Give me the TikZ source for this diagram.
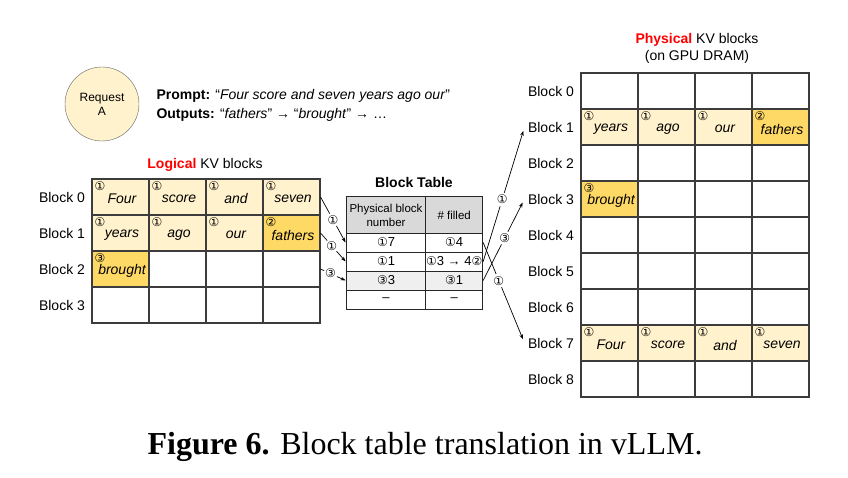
\documentclass[tikz,border=0pt]{standalone}
\usepackage{fontspec}
\setmainfont{Liberation Sans}
\newfontfamily\symfont{DejaVu Sans}
\newfontfamily\capfont{Liberation Serif}
\usetikzlibrary{arrows.meta,positioning}
\definecolor{kvlight}{HTML}{FFF2CC}
\definecolor{kvdark}{HTML}{FFD966}
\definecolor{hdrgray}{HTML}{D9D9D9}
\definecolor{rowgray}{HTML}{EFEFEF}
\definecolor{gridline}{HTML}{3C3C3C}
\definecolor{kvred}{HTML}{FF0000}
% circled step number
\newcommand{\cnum}[1]{{\symfont\fontsize{12}{12}\selectfont\ifcase#1\or ①\or ②\or ③\fi}}
\begin{document}
\begin{tikzpicture}
  [x=1pt,y=-1pt,
   kvcell/.style={draw=gridline,line width=1.1pt,minimum width=57pt,minimum height=36pt,
     inner sep=0pt},
   kvword/.style={font=\fontsize{14}{14}\selectfont\itshape},
   btcell/.style={draw=black!85,line width=0.9pt,minimum height=19pt,inner sep=0pt,
     font=\fontsize{13}{13}\selectfont},
   blklabel/.style={font=\fontsize{14}{14}\selectfont},
   title/.style={font=\fontsize{14}{17}\selectfont,align=center},
   numtag/.style={inner sep=0pt},
   flow/.style={-{Stealth[length=5pt,width=3.5pt]},line width=0.7pt},
   flownum/.style={circle,fill=white,inner sep=0pt}]
  \fill[white] (0,0) rectangle (848,478);

  % request
  \node[circle,draw=black!60,fill=kvlight,minimum size=74pt,align=center,
    font=\fontsize{12}{14}\selectfont] (req) at (102,104) {Request\\A};
  \node[anchor=west,align=left,font=\fontsize{14}{19}\selectfont] (prompt) at (153,105)
    {\textbf{Prompt:} “\textit{Four score and seven years ago our}”\\
     \textbf{Outputs:} “\textit{fathers}” → “\textit{brought}” → …};

  % logical KV blocks
  \node[title] (ltitle) at (205,165) {\textbf{\textcolor{kvred}{Logical}} KV blocks};
  \foreach \r in {0,...,3} {
    \node[blklabel] (lb\r) at (62,{197+36*\r}) {Block \r};
    \foreach \c in {0,...,3}
      \node[kvcell] (l-\r-\c) at ({120.5+57*\c},{197+36*\r}) {};
  }
  \foreach \r/\c/\w/\n/\f in {0/0/Four/1/kvlight,0/1/score/1/kvlight,0/2/and/1/kvlight,
    0/3/seven/1/kvlight,1/0/years/1/kvlight,1/1/ago/1/kvlight,1/2/our/1/kvlight,
    1/3/fathers/2/kvdark,2/0/brought/3/kvdark} {
    \node[kvcell,fill=\f] (lc-\r-\c) at (l-\r-\c) {};
    \node[kvword] (lw-\r-\c) at ([shift={(1.5,2)}]l-\r-\c.center) {\w};
    \node[numtag] (ln-\r-\c) at ([shift={(8.5,7.5)}]l-\r-\c.north west) {\cnum{\n}};
  }

  % block table
  \node[font=\fontsize{14}{14}\selectfont\bfseries] (bttitle) at (414,182) {Block Table};
  \node[btcell,fill=hdrgray,minimum width=80pt,minimum height=36.6pt,align=center,
    font=\fontsize{11.5}{14}\selectfont] (th-1) at (386,215) {Physical block\\number};
  \node[btcell,fill=hdrgray,minimum width=57pt,minimum height=36.6pt,
    font=\fontsize{11.5}{14}\selectfont] (th-2) at (454.2,215) {\# filled};
  \foreach \r/\a/\b/\f in {0/{\cnum{1}7}/{\cnum{1}4}/white,
    1/{\cnum{1}1}/{\cnum{1}3 → 4\cnum{2}}/white,
    2/{\cnum{3}3}/{\cnum{3}1}/rowgray,3/--/--/white} {
    \node[btcell,fill=\f,minimum width=80pt] (bt-\r-1) at (386,{242.5+19*\r}) {\a};
    \node[btcell,fill=\f,minimum width=57pt] (bt-\r-2) at (454.2,{242.5+19*\r}) {\b};
  }

  % physical KV blocks
  \node[title] (ptitle) at (697,48)
    {\textbf{\textcolor{kvred}{Physical}} KV blocks\\(on GPU DRAM)};
  \foreach \r in {0,...,8} {
    \node[blklabel] (pb\r) at (551,{91+36*\r}) {Block \r};
    \foreach \c in {0,...,3}
      \node[kvcell] (p-\r-\c) at ({609.5+57*\c},{91+36*\r}) {};
  }
  \foreach \r/\c/\w/\n/\f in {1/0/years/1/kvlight,1/1/ago/1/kvlight,1/2/our/1/kvlight,
    1/3/fathers/2/kvdark,3/0/brought/3/kvdark,7/0/Four/1/kvlight,7/1/score/1/kvlight,
    7/2/and/1/kvlight,7/3/seven/1/kvlight} {
    \node[kvcell,fill=\f] (pc-\r-\c) at (p-\r-\c) {};
    \node[kvword] (pw-\r-\c) at ([shift={(1.5,2)}]p-\r-\c.center) {\w};
    \node[numtag] (pn-\r-\c) at ([shift={(8.5,7.5)}]p-\r-\c.north west) {\cnum{\n}};
  }

  % translation arrows
  \draw[flow] (l-0-3.east) -- node[flownum,pos=0.5] {\cnum{1}} (bt-0-1.west);
  \draw[flow] (l-1-3.east) -- node[flownum,pos=0.45] {\cnum{1}} (bt-1-1.west);
  \draw[flow] (l-2-3.east) -- node[flownum,pos=0.4] {\cnum{3}} (bt-2-1.west);
  \draw[flow,shorten >=4pt] (bt-0-2.east) -- node[flownum,pos=0.38] {\cnum{1}} (pb7.west);
  \draw[flow,shorten >=4pt] (bt-1-2.east) -- node[flownum,pos=0.46] {\cnum{1}} (pb1.west);
  \draw[flow,shorten >=4pt] (bt-2-2.east) -- node[flownum,pos=0.52] {\cnum{3}} (pb3.west);

  % caption
  \node[font=\capfont\fontsize{32}{32}\selectfont] (caption) at (425,447)
    {\textbf{Figure 6.} Block table translation in vLLM.};
\end{tikzpicture}
\end{document}
